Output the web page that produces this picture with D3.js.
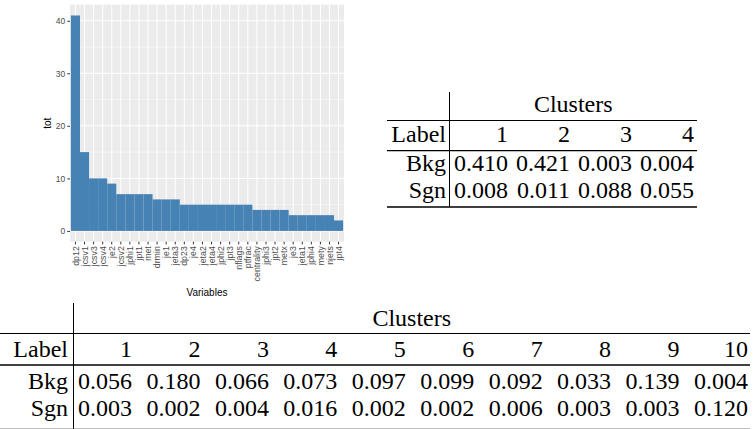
<!DOCTYPE html>
<html lang="en">
<head>
  <meta charset="UTF-8">
  <title>D3</title>
  <script src="https://d3js.org/d3.v7.min.js"></script>
  <style>
    body { margin: 0; background: #fff; }
    svg { display: block; }
  </style>
</head>
<body>
  <script>
    // bar chart data
    var variables = ["dp12", "jcsv1", "jcsv3", "jcsv4", "je2", "jcsv2", "jphi1", "jpt1", "met", "drmin",
                     "je1", "jeta3", "dp23", "je4", "jeta2", "jeta4", "jphi2", "jpt3", "nflags", "ptfrac",
                     "centrality", "jphi3", "jpt2", "metx", "je3", "jeta1", "jphi4", "mety", "njets", "jpt4"];
    var tot = [41, 15, 10, 10, 9, 7, 7, 7, 7, 6,
               6, 6, 5, 5, 5, 5, 5, 5, 5, 5,
               4, 4, 4, 4, 3, 3, 3, 3, 3, 2];
    var yTicks = [0, 10, 20, 30, 40];

    // tables
    var rowNames = ["Bkg", "Sgn"];
    var smallClusters = ["1", "2", "3", "4"];
    var smallBkg = [0.410, 0.421, 0.003, 0.004];
    var smallSgn = [0.008, 0.011, 0.088, 0.055];
    var bigClusters = ["1", "2", "3", "4", "5", "6", "7", "8", "9", "10"];
    var bigBkg = [0.056, 0.180, 0.066, 0.073, 0.097, 0.099, 0.092, 0.033, 0.139, 0.004];
    var bigSgn = [0.003, 0.002, 0.004, 0.016, 0.002, 0.002, 0.006, 0.003, 0.003, 0.120];

    var w = 754;
    var h = 429;

    var sans = "'Liberation Sans', Arial, sans-serif";
    var serif = "'Liberation Serif', 'Times New Roman', Times, serif";

    var svg = d3.select("body")
                .append("svg")
                .attr("width", w)
                .attr("height", h);

    // ---- bar chart (ggplot look) ----
    var panel = { left: 70, right: 344, top: 4.7, bottom: 241.7 };
    var ymax = d3.max(tot);

    var xScale = d3.scaleBand()
                   .domain(variables)
                   .range([panel.left, panel.right])
                   .paddingInner(0)
                   .paddingOuter(0.1);

    var yScale = d3.scaleLinear()
                   .domain([-0.05 * ymax, ymax * 1.05])
                   .range([panel.bottom, panel.top]);

    var chart = svg.append("g");

    chart.append("rect")
         .attr("x", panel.left)
         .attr("y", panel.top)
         .attr("width", panel.right - panel.left)
         .attr("height", panel.bottom - panel.top)
         .attr("fill", "#ebebeb");

    // minor grid
    chart.selectAll(".minor")
         .data([5, 15, 25, 35])
         .enter()
         .append("line")
         .attr("x1", panel.left).attr("x2", panel.right)
         .attr("y1", function(d) { return yScale(d); })
         .attr("y2", function(d) { return yScale(d); })
         .attr("stroke", "#fff").attr("stroke-width", 0.5);

    chart.selectAll(".major")
         .data(yTicks)
         .enter()
         .append("line")
         .attr("x1", panel.left).attr("x2", panel.right)
         .attr("y1", function(d) { return yScale(d); })
         .attr("y2", function(d) { return yScale(d); })
         .attr("stroke", "#fff").attr("stroke-width", 1);

    chart.selectAll(".vgrid")
         .data(variables)
         .enter()
         .append("line")
         .attr("x1", function(d) { return xScale(d) + xScale.bandwidth() / 2; })
         .attr("x2", function(d) { return xScale(d) + xScale.bandwidth() / 2; })
         .attr("y1", panel.top).attr("y2", panel.bottom)
         .attr("stroke", "#fff").attr("stroke-width", 1);

    chart.selectAll(".bar")
         .data(variables)
         .enter()
         .append("rect")
         .attr("x", function(d) { return xScale(d); })
         .attr("width", xScale.bandwidth())
         .attr("y", function(d, i) { return yScale(tot[i]); })
         .attr("height", function(d, i) { return yScale(0) - yScale(tot[i]); })
         .attr("fill", "#4682b4");

    var xAxis = d3.axisBottom(xScale).tickSize(2.7).tickPadding(2);
    var yAxis = d3.axisLeft(yScale).tickValues(yTicks).tickSize(2.7).tickPadding(2);

    var gx = chart.append("g")
                  .attr("transform", "translate(0," + panel.bottom + ")")
                  .call(xAxis);
    gx.select(".domain").remove();
    gx.selectAll(".tick line").attr("stroke", "#333");
    gx.selectAll("text")
      .attr("font-family", sans)
      .attr("font-size", 8.8)
      .attr("fill", "#4d4d4d")
      .attr("transform", "rotate(-90)")
      .attr("text-anchor", "end")
      .attr("x", -4.5)
      .attr("y", 0)
      .attr("dy", "0.35em");

    var gy = chart.append("g")
                  .attr("transform", "translate(" + panel.left + ",0)")
                  .call(yAxis);
    gy.select(".domain").remove();
    gy.selectAll(".tick line").attr("stroke", "#333");
    gy.selectAll("text")
      .attr("font-family", sans)
      .attr("font-size", 8.5)
      .attr("fill", "#4d4d4d");

    chart.append("text")
         .attr("x", (panel.left + panel.right) / 2)
         .attr("y", 296)
         .attr("text-anchor", "middle")
         .attr("font-family", sans)
         .attr("font-size", 10)
         .text("Variables");

    chart.append("text")
         .attr("transform", "translate(51," + (panel.top + panel.bottom) / 2 + ") rotate(-90)")
         .attr("text-anchor", "middle")
         .attr("font-family", sans)
         .attr("font-size", 10)
         .text("tot");

    // ---- tables ----
    var fmt = d3.format(".3f");

    function drawTable(t) {
      var g = svg.append("g")
                 .attr("font-family", serif)
                 .attr("font-size", t.fontSize)
                 .attr("fill", "#000");

      var colX = d3.scalePoint().domain(t.clusters).range([t.firstRight, t.lastRight]);
      var rowY = d3.scalePoint().domain(rowNames).range([t.rowTop, t.rowBottom]);

      g.append("line")
       .attr("x1", t.vline).attr("x2", t.vline)
       .attr("y1", t.vTop).attr("y2", t.vBottom)
       .attr("stroke", "#000").attr("stroke-width", 1);

      t.rules.forEach(function(r) {
        g.append("line")
         .attr("x1", t.left).attr("x2", t.right)
         .attr("y1", r[0]).attr("y2", r[0])
         .attr("stroke", r[2] || "#000").attr("stroke-width", r[1]);
      });

      g.append("text")
       .attr("x", (t.vline + t.right) / 2)
       .attr("y", t.headY)
       .attr("text-anchor", "middle")
       .text("Clusters");

      g.append("text")
       .attr("x", t.labelRight)
       .attr("y", t.labelY)
       .attr("text-anchor", "end")
       .text("Label");

      g.selectAll(".col")
       .data(t.clusters)
       .enter()
       .append("text")
       .attr("x", function(d) { return colX(d); })
       .attr("y", t.labelY)
       .attr("text-anchor", "end")
       .text(function(d) { return d; });

      rowNames.forEach(function(r, ri) {
        var vals = ri === 0 ? t.bkg : t.sgn;
        g.append("text")
         .attr("x", t.labelRight)
         .attr("y", rowY(r))
         .attr("text-anchor", "end")
         .text(r);
        g.selectAll(".v" + r)
         .data(vals)
         .enter()
         .append("text")
         .attr("x", function(d, i) { return colX(t.clusters[i]); })
         .attr("y", rowY(r))
         .attr("text-anchor", "end")
         .text(function(d) { return fmt(d); });
      });
    }

    drawTable({
      clusters: smallClusters, bkg: smallBkg, sgn: smallSgn,
      fontSize: 24,
      left: 387, right: 697, vline: 449.5, vTop: 92, vBottom: 207,
      rules: [[120.5, 1], [150.7, 1.3], [207, 1.5]],
      headY: 112, labelY: 142, rowTop: 171, rowBottom: 198,
      labelRight: 446, firstRight: 508, lastRight: 694
    });

    drawTable({
      clusters: bigClusters, bkg: bigBkg, sgn: bigSgn,
      fontSize: 24,
      left: 0, right: 750, vline: 73.5, vTop: 303, vBottom: 429,
      rules: [[333.5, 1], [365, 1.3], [428.7, 0.6, "#777"]],
      headY: 326, labelY: 357, rowTop: 389, rowBottom: 416,
      labelRight: 68, firstRight: 132, lastRight: 748
    });
  </script>
</body>
</html>
